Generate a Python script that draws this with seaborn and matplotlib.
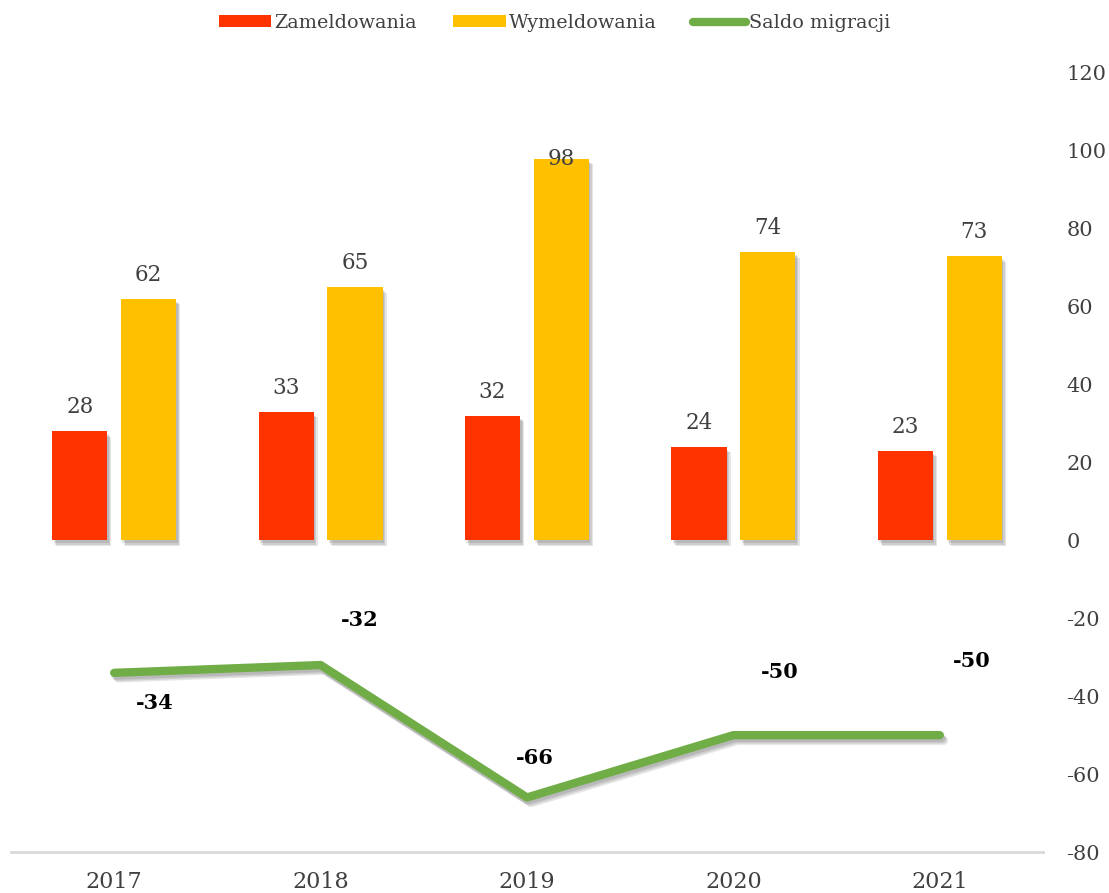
import numpy as np
import pandas as pd
import matplotlib
matplotlib.use("Agg")
import matplotlib.pyplot as plt
import matplotlib.patheffects as pe
from matplotlib.patches import Patch
from matplotlib.lines import Line2D
import seaborn as sns

# ======================================
# Data
# ======================================

years = ["2017", "2018", "2019", "2020", "2021"]
zameldowania = [28, 33, 32, 24, 23]
wymeldowania = [62, 65, 98, 74, 73]
saldo = [-34, -32, -66, -50, -50]

series_names = ["Zameldowania", "Wymeldowania", "Saldo migracji"]
colors = ["#FF3300", "#FFC000", "#70AD47"]

y_ticks = [-80, -60, -40, -20, 0, 20, 40, 60, 80, 100, 120]

# label placement (pixels) for the line labels, as in the source
saldo_label_offsets = [(41, -30), (39, 45), (8, 39), (46, 63), (32, 74)]

# ======================================
# Setup
# ======================================

sns.set_style("white")
plt.rcParams["font.family"] = ["DejaVu Serif"]
plt.rcParams["axes.unicode_minus"] = False

text_gray = "#404040"

df = pd.DataFrame({
    "Rok": years * 2,
    "Seria": [series_names[0]] * len(years) + [series_names[1]] * len(years),
    "Liczba": zameldowania + wymeldowania,
})

fig = plt.figure(figsize=(11.09, 8.93), dpi=100)
ax = fig.add_axes([11 / 1109, 41 / 893, (1043 - 11) / 1109, (820 - 41) / 893])

sns.barplot(
    data=df,
    x="Rok",
    y="Liczba",
    hue="Seria",
    palette=colors[:2],
    saturation=1,
    width=0.667,
    gap=0.2,
    legend=False,
    ax=ax,
)

# soft drop shadow, built from a few faint offset copies
soft_shadow = [
    pe.SimplePatchShadow(offset=(o, -o - 1), alpha=0.1, shadow_rgbFace="#000000")
    for o in (1, 2, 3)
] + [pe.Normal()]
for bar in ax.patches:
    bar.set_path_effects(soft_shadow)
    bar.set_linewidth(0)

# bar value labels
for container in ax.containers:
    for bar in container:
        h = bar.get_height()
        x = bar.get_x() + bar.get_width() / 2
        dy = 0 if h > 90 else 24
        ax.annotate(
            f"{h:.0f}",
            (x, h),
            xytext=(0, dy),
            textcoords="offset pixels",
            ha="center",
            va="center",
            fontsize=15.5,
            color=text_gray,
        )

# line
x_pos = np.arange(len(years))
sns.lineplot(
    x=x_pos,
    y=saldo,
    color=colors[2],
    linewidth=6,
    solid_capstyle="round",
    ax=ax,
)
line_shadow = [
    pe.SimpleLineShadow(offset=(o, -o - 1), alpha=0.1, shadow_color="#000000")
    for o in (1, 2, 3)
] + [pe.Normal()]
for line in ax.lines:
    line.set_path_effects(line_shadow)

for xi, v, off in zip(x_pos, saldo, saldo_label_offsets):
    ax.annotate(
        f"{v}",
        (xi, v),
        xytext=off,
        textcoords="offset pixels",
        ha="center",
        va="center",
        fontsize=15,
        fontweight="bold",
        color="black",
    )

# ======================================
# Axes
# ======================================

ax.set_xlim(-0.5, len(years) - 0.5)
ax.set_ylim(-80, 120)
ax.set_yticks(y_ticks)
ax.set_xlabel("")
ax.set_ylabel("")

ax.yaxis.tick_right()
ax.tick_params(axis="y", length=0, pad=17, labelsize=15, labelcolor=text_gray)
ax.tick_params(axis="x", length=0, pad=14, labelsize=16, labelcolor=text_gray)

for side in ["top", "left", "right"]:
    ax.spines[side].set_visible(False)
ax.spines["bottom"].set_color("#D9D9D9")
ax.spines["bottom"].set_linewidth(2)

# ======================================
# Legend
# ======================================

handles = [
    Patch(facecolor=colors[0], edgecolor="none"),
    Patch(facecolor=colors[1], edgecolor="none"),
    Line2D([0], [0], color=colors[2], linewidth=6, solid_capstyle="round"),
]
leg = fig.legend(
    handles,
    series_names,
    loc="center",
    bbox_to_anchor=(0.5, 1 - 23 / 893),
    ncol=3,
    frameon=False,
    fontsize=13.8,
    handlelength=2.75,
    handleheight=0.62,
    handletextpad=0.15,
    columnspacing=1.9,
)
for t in leg.get_texts():
    t.set_color(text_gray)

fig.savefig("out.png", dpi=100)
